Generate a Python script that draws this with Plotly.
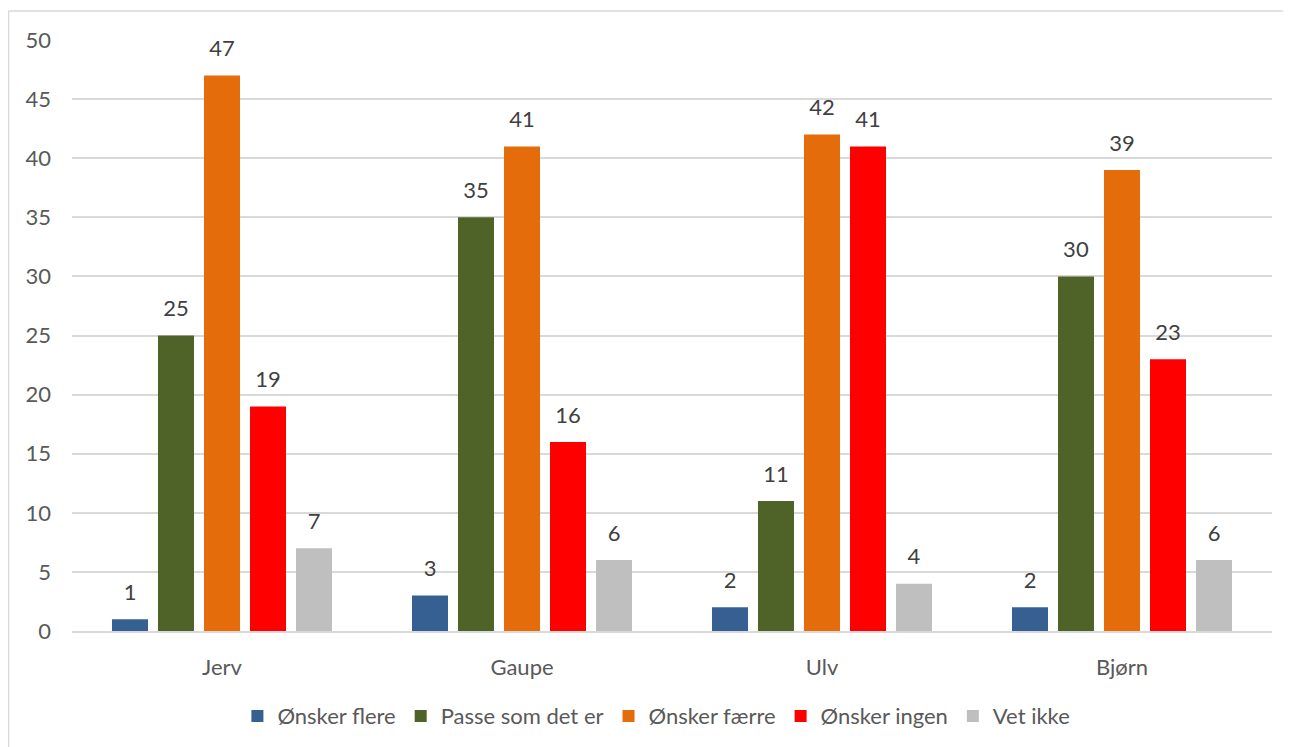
import plotly.graph_objects as go

categories = ["Jerv", "Gaupe", "Ulv", "Bjørn"]
series_names = ["Ønsker flere", "Passe som det er", "Ønsker færre", "Ønsker ingen", "Vet ikke"]
onsker_flere = [1, 3, 2, 2]
passe = [25, 35, 11, 30]
onsker_faerre = [47, 41, 42, 39]
onsker_ingen = [19, 16, 41, 23]
vet_ikke = [7, 6, 4, 6]
colors = ["#376092", "#4F6228", "#E46C0A", "#FF0000", "#BFBFBF"]
y_ticks = [0, 5, 10, 15, 20, 25, 30, 35, 40, 45, 50]

FONT = "Lato, Calibri, Carlito, sans-serif"
FS = 22
LABEL_PAD = 0.95  # vertical gap (in axis units) between bar top and its label

fig = go.Figure()
for i, (name, vals, col) in enumerate(zip(series_names,
                                          [onsker_flere, passe, onsker_faerre, onsker_ingen, vet_ikke],
                                          colors)):
    fig.add_trace(go.Bar(
        x=categories, y=vals, name=name, marker_color=col, marker_line_width=0,
        offsetgroup=str(i), hoverinfo="x+y+name",
    ))
    # transparent spacer bar carrying the data label
    fig.add_trace(go.Bar(
        x=categories, y=[LABEL_PAD] * len(vals), base=vals, offsetgroup=str(i),
        marker_color="rgba(0,0,0,0)", marker_line_width=0, showlegend=False,
        text=[str(v) for v in vals], textposition="outside",
        textfont=dict(size=FS, color="#404040", family=FONT),
        cliponaxis=False, hoverinfo="skip",
    ))

bx0 = (8.5 - 72) / 1200
bx1 = (1320 - 72) / 1200
by0 = (631 - 780) / 591
by1 = (631 - 11) / 591
border = dict(color="#D9D9D9", width=1.5)

fig.update_layout(
    width=1291, height=747,
    margin=dict(l=64, r=27, t=32, b=124),
    paper_bgcolor="white", plot_bgcolor="white",
    barmode="group", bargap=0.2333, bargroupgap=0.217,
    font=dict(family=FONT, size=FS, color="#595959"),
    showlegend=True,
    legend=dict(orientation="h", x=0.487, xanchor="center", y=-0.144, yanchor="middle",
                font=dict(size=FS, color="#595959"), itemwidth=30, traceorder="normal"),
    xaxis=dict(showgrid=False, showline=True, linecolor="#D9D9D9", linewidth=1.5,
               ticks="", tickfont=dict(size=FS, color="#595959"), ticklabelstandoff=16),
    yaxis=dict(range=[0, 50], tickvals=y_ticks, showgrid=True, gridcolor="#D9D9D9",
               gridwidth=1.5, zeroline=False, showline=False, ticks="",
               tickfont=dict(size=FS, color="#595959"), ticklabelstandoff=20),
    shapes=[
        dict(type="line", xref="paper", yref="paper", x0=bx0, x1=bx0, y0=by0, y1=by1,
             line=border, layer="below"),
        dict(type="line", xref="paper", yref="paper", x0=bx0, x1=bx1, y0=by1, y1=by1,
             line=border, layer="below"),
    ],
)

fig.write_html("out.html")
